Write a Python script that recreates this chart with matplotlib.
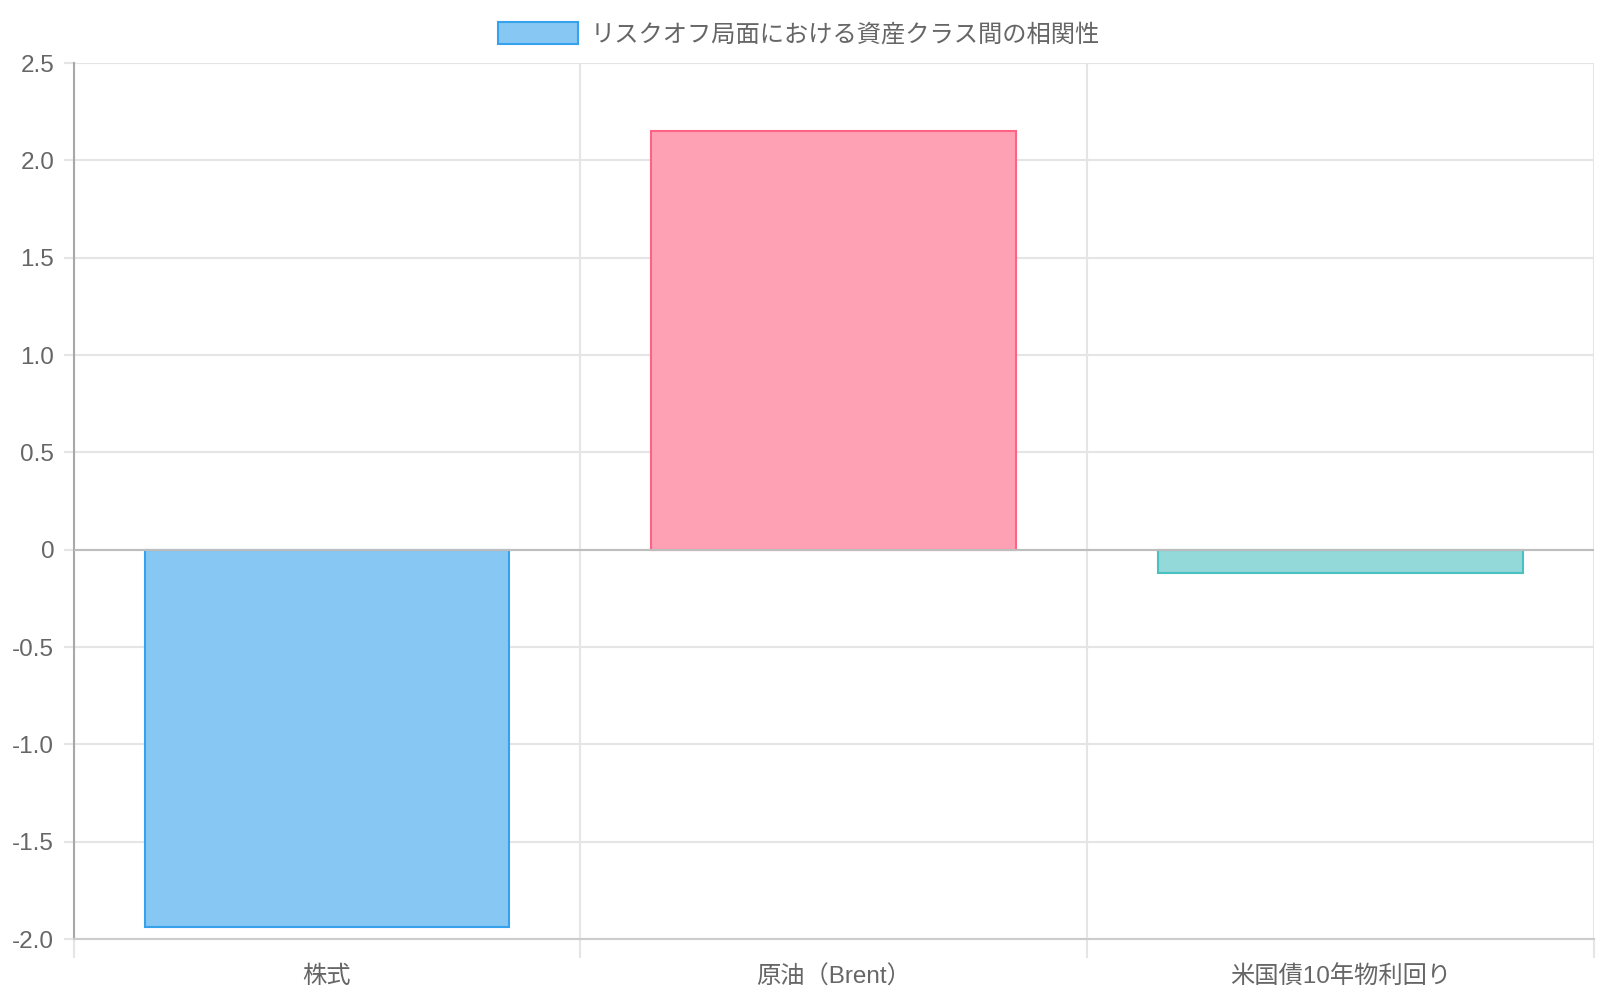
import matplotlib.pyplot as plt
from matplotlib.patches import Patch
from matplotlib.ticker import FixedLocator

plt.rcParams['font.family'] = ['Liberation Sans', 'Noto Sans CJK JP']

categories = ['株式', '原油（Brent）', '米国債10年物利回り']
values = [-1.94, 2.15, -0.12]
fills = ['#86c7f3', '#ffa1b5', '#93d9d9']
edges = ['#36a2eb', '#ff6384', '#4bc0c0']
series_label = 'リスクオフ局面における資産クラス間の相関性'
yticks = [-2.0, -1.5, -1.0, -0.5, 0, 0.5, 1.0, 1.5, 2.0, 2.5]
ytick_labels = ['-2.0', '-1.5', '-1.0', '-0.5', '0', '0.5', '1.0', '1.5', '2.0', '2.5']

grid = '#e5e5e5'
txt = '#666666'
fs = 17.5

fig = plt.figure(figsize=(16, 10), dpi=100)
ax = fig.add_axes([0.046, 0.061, 0.950, 0.876])

x = list(range(len(categories)))
ax.bar(x, values, width=0.72, color=fills, edgecolor=edges, linewidth=1.5, zorder=3)

ax.set_xlim(-0.5, len(categories) - 0.5)
ax.set_ylim(-2.0, 2.5)

ax.set_yticks(yticks)
ax.set_yticklabels(ytick_labels)
ax.set_xticks(x)
ax.set_xticklabels(categories)
ax.xaxis.set_minor_locator(FixedLocator([i - 0.5 for i in range(len(categories) + 1)]))

ax.grid(axis='y', which='major', color=grid, linewidth=1.5, zorder=0)
ax.grid(axis='x', which='minor', color=grid, linewidth=1.5, zorder=0)
ax.axhline(0, color='#bdbdbd', linewidth=1.5, zorder=4)

ax.tick_params(axis='y', length=7, width=1.5, color=grid, pad=7, labelsize=fs, labelcolor=txt)
ax.tick_params(axis='x', which='major', length=0, pad=19, labelsize=fs, labelcolor=txt)
ax.tick_params(axis='x', which='minor', length=14, width=1.5, color=grid)

for s in ['top', 'right']:
    ax.spines[s].set_visible(False)
ax.spines['left'].set_color('#a8a8a8')
ax.spines['left'].set_linewidth(1.5)
ax.spines['bottom'].set_color('#cccccc')
ax.spines['bottom'].set_linewidth(1.5)

handle = Patch(facecolor=fills[0], edgecolor=edges[0], linewidth=1.5)
fig.legend([handle], [series_label], loc='center', bbox_to_anchor=(0.4994, 0.966),
           frameon=False, fontsize=fs, labelcolor=txt, handlelength=3.3,
           handleheight=1.0, handletextpad=0.5)

plt.savefig('out.png', dpi=100)
